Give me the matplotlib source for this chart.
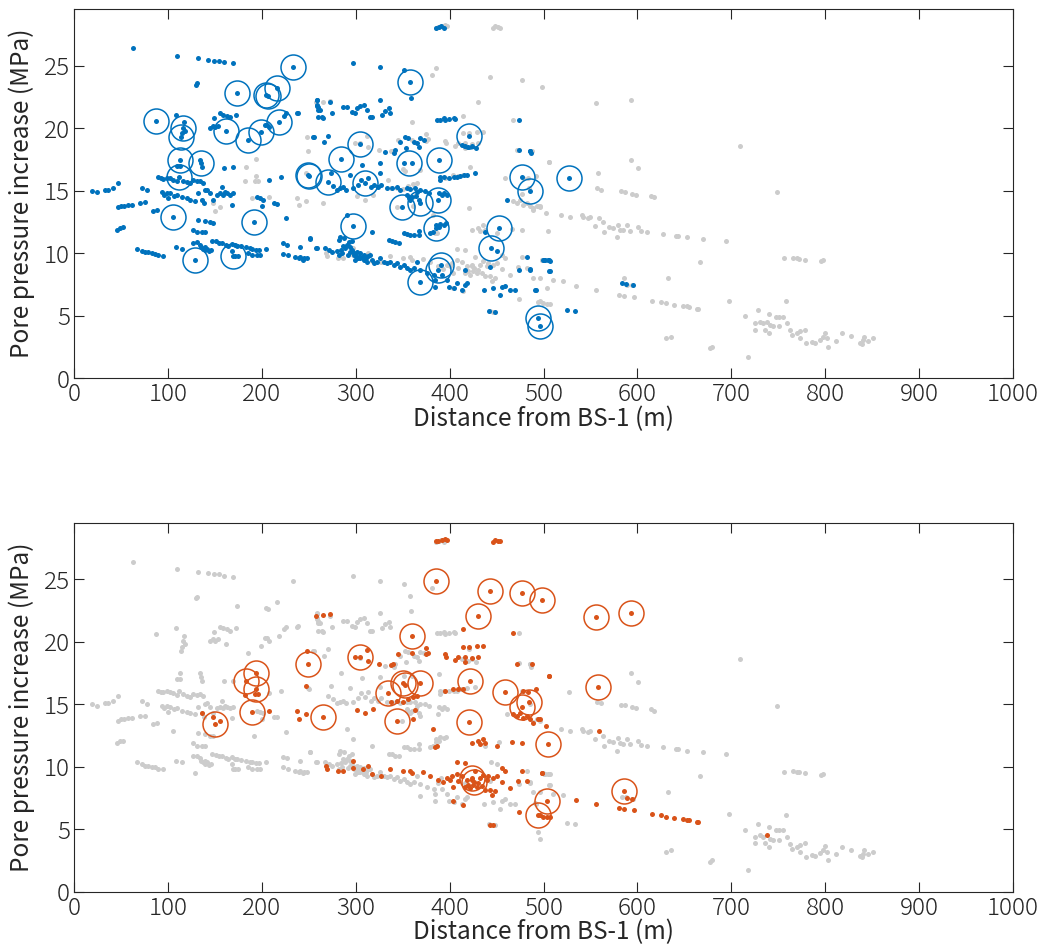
import matplotlib.pyplot as plt
import numpy as np

plt.rcParams['font.family'] = ['Noto Sans CJK JP', 'DejaVu Sans']
plt.rcParams['font.weight'] = 'light'

# events shown in blue in the upper panel (grey in the lower one)
blue_pts = [
    (63, 26.4), (110, 25.8), (132, 25.6), (143, 25.5), (149, 25.4), (154, 25.4), (160, 25.3), (169, 25.2),
    (130, 23.5), (131, 23.6), (233.6, 24.9), (174, 22.85), (204.5, 22.7), (206.5, 22.6), (216.5, 23.2),
    (259, 22.3), (259, 21.8), (260, 21.5), (260, 20.9),
    (87, 20.6), (109, 21.1), (116, 20.05), (114, 19.3), (117, 20.5), (118, 19.8), (115, 19.6),
    (149, 20.8), (155.5, 21.2), (159, 21.1), (162.6, 21.0), (166, 20.9), (173, 21.1),
    (145, 20.05), (148, 20.2), (150, 20.1), (153.7, 20.2),
    (162, 19.8), (185, 19.1), (199, 19.7), (203.4, 20.3), (206, 20.3), (208, 20.1), (218.7, 20.5),
    (224, 21.0), (226, 21.2), (237, 21.2), (239, 21.25), (255, 19.3),
    (112.9, 17.5), (135.2, 17.2), (134, 17.5), (136, 16.9), (112, 16.1), (109.4, 17.0), (113, 17.0),
    (160, 16.85), (169, 16.9), (208, 15.9), (220.4, 16.1), (250.6, 16.2), (249, 16.3),
    (89.8, 16.1), (92.3, 16.0), (95, 15.95), (98.7, 16.05), (102, 16.0), (105.8, 15.9), (109.4, 15.75),
    (116.4, 15.8), (120, 15.7), (123.4, 15.6), (127, 15.85), (130.6, 15.75), (134, 15.8), (137.7, 15.65),
    (18.8, 15.0), (24.2, 14.9), (33, 15.1), (36.5, 15.1), (42, 15.25), (47, 15.65), (72, 15.25), (78, 15.05),
    (93.4, 14.9), (98.7, 14.85), (102, 14.8),
    (96, 14.7), (100, 14.4), (106, 14.6), (110, 14.7), (115, 14.5), (120, 14.4), (123.7, 14.3), (129, 14.2),
    (132.5, 14.8), (136, 14.3), (138, 14.0), (140, 15.05), (142, 15.1), (145, 14.8), (148.5, 14.3),
    (152, 14.7), (155.6, 14.8), (157.4, 15.3), (159, 14.7), (161, 14.9), (162.7, 14.8), (166.3, 14.7),
    (169.8, 14.8), (168, 13.9),
    (194.8, 14.5), (198.3, 14.4), (201.8, 14.3), (200, 13.8), (212.5, 14.0), (216, 13.95),
    (46.5, 13.7), (50, 13.8), (53.6, 13.8), (57.8, 13.9), (61.4, 13.9), (70.3, 14.05), (75.6, 14.1),
    (84.5, 13.4), (88.7, 13.5), (105, 12.9),
    (45.5, 11.9), (49, 12.05), (52.5, 12.1),
    (131.7, 12.7), (139.6, 12.6), (145, 12.5), (148.5, 12.45), (127.2, 11.9), (130.7, 11.7), (136, 11.7),
    (139.6, 11.7), (192.2, 12.5), (226, 12.8), (251.3, 11.15),
    (127, 10.85), (131, 10.9), (134, 10.7), (135.5, 10.5), (137, 10.35), (139, 10.25), (140, 10.5),
    (142, 10.35), (144, 10.15), (146, 10.25), (147.5, 11.0), (151, 10.95), (154, 10.85), (158, 10.85),
    (161.5, 10.7), (164, 10.6), (168, 10.75), (171, 10.65), (174, 10.6), (178, 10.55), (183, 10.5),
    (187, 10.4), (190, 10.35), (194, 10.3), (197.5, 10.3), (204, 10.35), (168, 10.2), (171, 9.8),
    (66.8, 10.35), (72.1, 10.2), (75.7, 10.1), (79.2, 10.1), (82.8, 10.0), (86.3, 9.95), (89.9, 9.85),
    (94.5, 9.8), (108.7, 10.5), (114.8, 10.35), (129, 9.5), (169.2, 9.8), (174.5, 9.8),
    (185.8, 10.0), (189.4, 9.85), (194.8, 9.85), (198.3, 9.85),
    (223, 10.8), (226.7, 10.7), (223, 9.95), (228.4, 9.85), (235.6, 9.7), (241, 9.7), (244.5, 9.6),
    (248, 9.6), (241, 10.5), (258, 10.4),
    (386, 28.0), (388.4, 28.1), (391.3, 28.2), (393.7, 28.0),
    (296.7, 25.25), (325.7, 24.9), (351, 24.65), (358.2, 23.7), (359, 22.45),
    (259, 22.25), (260, 21.7), (262, 21.5), (264, 20.9), (272.6, 22.1), (274.4, 21.2), (265.6, 20.8),
    (258.7, 21.9), (287, 21.7), (290.7, 21.7), (296, 21.3), (299.5, 21.2), (301.3, 21.6), (304.8, 21.8),
    (308.4, 21.9), (312, 21.5), (315.5, 20.9), (317.3, 20.9), (326, 22.3), (328, 21.1), (331.5, 21.4),
    (335, 21.6), (336.9, 21.2),
    (386.6, 20.7), (390.2, 20.7), (393.7, 20.8), (395.5, 20.65), (399, 20.75), (404.4, 20.8), (406.2, 20.75),
    (474, 20.7), (420.7, 19.4), (413, 18.65), (416.5, 18.6), (420, 18.5), (423.7, 18.6), (428.3, 18.4),
    (255.9, 19.3), (271, 19.4), (265.8, 18.9), (304.8, 18.75),
    (347.5, 18.9), (352.9, 19.3), (355.4, 19.2), (361.7, 18.9), (365.3, 18.8), (368.8, 19.2), (372.4, 19.1),
    (367, 18.5), (354, 18.4),
    (284.3, 17.55), (306.7, 17.1), (326.2, 17.2), (331.5, 18.1), (340.4, 18.0), (341.4, 18.25),
    (351, 17.25), (360, 17.25), (388.4, 17.45),
    (389.5, 16.1), (393.7, 16.1), (399, 16.05), (404.4, 16.1), (408, 16.1), (411.5, 16.2), (415, 16.25),
    (418.7, 16.3), (427.5, 16.4), (390, 15.85),
    (477.3, 16.1), (486, 15.0), (473.6, 18.3), (486, 18.2), (486.8, 18.0),
    (271, 15.7), (310, 15.6), (294, 16.3), (273.7, 16.45), (326, 16.4),
    (276, 15.4), (280, 15.1), (283, 15.2), (287, 15.3), (290, 15.1), (297, 15.2), (302, 15.5), (306, 15.9),
    (313, 16.0), (316, 15.3), (319, 15.5), (324, 15.3), (327, 15.5), (333, 15.2),
    (338.7, 15.2), (344, 15.3), (347.5, 15.1), (354.7, 15.2), (358.2, 15.15), (363.5, 15.2), (365.3, 14.9),
    (368.9, 15.06), (374.2, 15.0), (377.7, 14.85),
    (388.4, 14.8), (392, 14.65), (393.7, 14.8), (397.3, 14.65), (387.7, 14.25),
    (354.7, 14.65), (356.4, 14.4), (358.2, 14.3), (360, 14.5), (364.6, 14.6), (367, 14.3),
    (349.3, 13.7), (368.9, 14.05), (296.7, 12.2), (290.7, 13.05), (283.6, 11.3), (281.8, 11.05),
    (287.1, 11.2), (317.4, 11.7), (251.6, 11.2),
    (385.6, 12.0), (385.9, 12.25), (388.4, 12.1), (390.2, 12.35), (393.7, 12.3), (396.3, 12.4),
    (382.4, 11.7), (379.5, 11.6),
    (351, 11.6), (354.7, 11.55), (358.2, 11.45), (361.7, 11.45), (367, 11.45), (367.8, 11.8),
    (335, 11.05), (338.7, 11.0), (342.2, 10.9), (345.7, 10.85),
    (239.9, 9.6), (243.5, 9.5), (258.7, 10.4), (267.6, 10.4), (271.1, 10.25), (274.7, 10.1), (280, 10.2),
    (281.8, 9.85), (285.4, 10.0), (289, 10.4), (290.7, 10.65), (294.3, 10.5), (294.3, 10.1), (297.8, 9.85),
    (299.6, 9.45), (301.4, 10.1), (303.1, 9.7), (304.9, 9.6), (308.4, 9.45), (312, 9.3), (315.5, 9.85),
    (317.3, 9.45), (319, 9.2), (322.6, 9.3), (326.2, 9.6), (329.7, 9.3), (333.3, 9.2), (336.8, 9.3),
    (340.4, 9.05), (344, 9.2), (347.5, 8.9), (351, 9.05), (354.7, 8.8), (358.2, 8.65), (361.7, 8.8),
    (365.3, 9.3), (368.1, 7.7), (388, 8.7), (391, 9.1), (368.9, 8.65), (376, 8.4), (383, 8.25),
    (292, 9.9), (296, 10.3), (298, 10.0), (300, 9.8), (302, 9.6), (305, 10.0), (307, 9.7), (309, 9.9),
    (311, 9.6), (313, 9.8), (284, 10.3), (287, 10.6), (293, 10.9), (296, 11.0),
    (384.9, 7.85), (384.9, 7.3), (392, 8.25), (397.3, 7.85), (399, 7.3), (404.4, 7.2), (408, 7.6),
    (413.3, 7.05), (416.8, 7.45), (418.6, 7.6), (416.8, 8.7), (436.4, 7.05), (446.3, 7.2), (443.5, 8.9),
    (453.4, 6.65), (456, 7.3), (459.5, 7.4), (464.1, 7.05), (470.1, 7.05), (473.7, 8.65), (482.6, 9.7),
    (486.1, 8.7), (491.5, 7.05), (500.3, 9.45), (505.6, 9.45), (505.6, 8.55),
    (441.7, 5.4), (448.1, 5.3), (494.3, 4.8), (496.1, 4.2),
    (453, 12.0), (444.6, 10.4), (438.2, 11.7), (450.6, 10.2), (461.2, 14.25),
    (485.6, 18.2), (527.5, 16.0), (499.7, 9.5), (502.1, 9.45), (504.5, 9.45), (506.7, 9.4), (485.6, 8.75),
    (506.4, 8.55), (491.1, 7.1), (583.2, 7.6), (588.2, 7.55), (594.9, 7.45), (524.5, 5.5), (533.3, 5.4),
]

# events shown in orange in the lower panel (grey in the upper one)
orange_pts = [
    (136.6, 14.3), (150.2, 13.4), (155.5, 13.7), (148, 14.0),
    (189.2, 14.4), (208, 14.5), (193.5, 17.55), (182.8, 16.9), (193.8, 16.2), (182.1, 15.75), (192.8, 15.8),
    (196.3, 15.8),
    (249.5, 18.2), (247.8, 19.3), (247.1, 16.45), (237.2, 14.45), (239.9, 13.85), (247.1, 14.2), (265.5, 14.0),
    (257.7, 22.1), (265.5, 22.15), (272.6, 22.2),
    (385.5, 28.05), (388, 28.1), (391.6, 28.2), (395.1, 28.25), (397.6, 28.2),
    (445.9, 28.0), (448.4, 28.2), (451.9, 28.1), (453.7, 28.05),
    (385.5, 24.85), (443, 24.1), (476.8, 23.9), (498, 23.35), (429.9, 22.1), (360.3, 20.5),
    (413.9, 21.0), (467.2, 20.7), (414.6, 19.6), (420.7, 19.6), (428.9, 19.7), (435.3, 19.7),
    (395.1, 19.0), (396.2, 18.8), (405.8, 18.55), (408.6, 18.8), (416.4, 18.8), (416.7, 18.4), (423.5, 18.75),
    (430.6, 18.8),
    (374.9, 19.55), (377.3, 19.15), (374.9, 19.0), (344.7, 19.05), (359.6, 19.1), (339.4, 18.2),
    (337.3, 18.15), (325.2, 18.25),
    (304.6, 18.8), (299.3, 18.8), (311.7, 19.35), (312.8, 18.5),
    (471.5, 18.25), (488.1, 18.2), (505.5, 17.3),
    (334.4, 15.9), (350, 16.75), (352.5, 16.55), (368.5, 16.7),
    (337.6, 15.2), (350.7, 15.15), (356, 15.4), (361.3, 15.55), (365, 15.65),
    (421.7, 16.9), (395.1, 16.05), (404, 16.25), (409.3, 16.2), (414.6, 16.25),
    (459, 16.0), (476.8, 14.75), (484.9, 15.2), (478.5, 16.05), (483.8, 16.0), (492, 16.2),
    (301, 14.55), (309.9, 14.3), (318.7, 14.65), (343.7, 15.25), (343.7, 13.7), (420.7, 13.6),
    (363.2, 14.55), (361.4, 13.8), (382.7, 13.05), (384.5, 11.6), (386.3, 11.65),
    (423.5, 11.9), (430.6, 12.05), (432.4, 11.8), (435.9, 12.25), (437.7, 11.9), (450.2, 11.65),
    (466.1, 11.95), (476.8, 11.9),
    (467.2, 14.2), (471.5, 14.05), (475, 14.3), (478.5, 13.9), (482.1, 14.05), (485.6, 13.8), (489.2, 13.5),
    (494.5, 13.8), (502.7, 13.25), (496.3, 13.8),
    (504.5, 11.8), (559.4, 12.85), (505.9, 17.3), (555.9, 22.0), (593.2, 22.3), (558.4, 16.4),
    (269.1, 9.8), (268.4, 10.05), (281.5, 9.65), (286.8, 9.65), (297.4, 10.45), (297.4, 9.9), (308.1, 9.8),
    (313.4, 10.05), (317.7, 9.4), (327, 9.3), (336.5, 9.8), (350.7, 9.65), (357.8, 9.7), (359.6, 9.5),
    (371.3, 9.55), (379.1, 9.3), (388, 8.95), (393.3, 8.75), (396.9, 9.1), (400.4, 8.95), (402.2, 9.25),
    (404, 8.4), (407.6, 10.35), (407.6, 9.45), (409.3, 8.85), (412.9, 9.3), (416.4, 10.3), (416.4, 8.4),
    (418.2, 8.95), (419.9, 8.55), (421.7, 8.3), (423.5, 8.95), (424, 9.1), (426, 8.8), (425.3, 8.55),
    (427, 9.7), (428.9, 8.4), (430.6, 8.7), (432.4, 9.1), (434.2, 8.45), (435.9, 9.35), (437.7, 8.15),
    (439.5, 8.95), (441.2, 9.25), (443, 8.15), (444.8, 7.75), (446.5, 9.1), (448.4, 8.05), (450.2, 9.25),
    (455.5, 9.9), (455.5, 8.75), (459, 9.65), (464.3, 8.3), (473.2, 8.9), (476.8, 9.7), (482.1, 8.85),
    (498.1, 9.5), (498, 9.5),
    (403.3, 7.25), (414.6, 6.95), (443, 5.35), (446.5, 5.3), (474.2, 6.35), (503.4, 7.25), (494.5, 6.1),
    (496.3, 6.15), (499.8, 6.0), (503.4, 5.95), (507, 5.95),
    (534.6, 7.35), (555.9, 7.05), (585.7, 8.05), (589.2, 7.5), (593.9, 7.45), (580.4, 6.7), (585.7, 6.6),
    (596.4, 6.5), (615.2, 6.2), (624.8, 6.1), (630.1, 6.0), (639.3, 5.9), (648.2, 5.8), (652.5, 5.75),
    (655.3, 5.7), (663.1, 5.55), (664.9, 5.55), (737.6, 4.5),
]

# events that are grey in both panels
other_pts = [
    (381, 24.3), (709.3, 18.6), (592.7, 17.5), (600.6, 16.8), (749, 14.9), (557.2, 15.2), (561.5, 15.1),
    (582, 14.98), (586.7, 14.93), (594.5, 14.77), (598, 14.7), (614.6, 14.6), (617.6, 14.5),
    (489.2, 13.6), (492.8, 13.8), (496.3, 13.7), (518.3, 13.05), (528.2, 12.9), (540.7, 13.05), (542.4, 12.9),
    (547.7, 12.8), (549.5, 12.9), (554.8, 12.2), (563.7, 12.5), (564.4, 11.7), (570.1, 12.1), (574.4, 12.0),
    (579, 12.3), (578.6, 11.3), (581.5, 11.9), (585, 11.85), (588.6, 12.25), (592.1, 11.8), (600.9, 12.1),
    (603.5, 11.75), (609.9, 11.7), (627.6, 11.55), (641.1, 11.4), (643.6, 11.4), (652.5, 11.3),
    (670.2, 11.15), (694, 11.0),
    (666.7, 9.3), (632.1, 8.0), (697.9, 6.2), (728.1, 5.45),
    (489.2, 8.0), (496.3, 8.0), (509.8, 7.85), (520.4, 7.75),
    (714.6, 4.95), (725.2, 4.4), (725.2, 3.9), (730.6, 4.5), (734.1, 4.4), (735.9, 3.9), (740.5, 5.15),
    (741.2, 4.25), (740.5, 3.6), (744.8, 4.15), (747.6, 4.9), (751.1, 4.9), (754.7, 4.9), (750.8, 4.15),
    (757.9, 6.15), (759, 4.4), (762.5, 3.85), (764.3, 3.45), (769.6, 3.6), (773.2, 3.75), (778.8, 3.9),
    (773.2, 3.2), (779.6, 2.8), (785.6, 2.9), (789.1, 2.85), (794.5, 3.1), (797.3, 3.3), (802.2, 3.2),
    (803.3, 2.5), (799.8, 3.65), (811.5, 3.0), (817.6, 3.6), (827.5, 3.35), (837.1, 2.85), (840.6, 3.05),
    (841.3, 3.3), (845.9, 3.0), (850.6, 3.2), (838.8, 2.75), (677.3, 2.4), (679.1, 2.5), (718.1, 1.7),
    (630.5, 3.2), (635.8, 3.3), (756.5, 9.6), (766, 9.65), (769.6, 9.6), (772.4, 9.55), (778.8, 9.5),
    (795.2, 9.35), (798, 9.45),
]

# highlighted events (rings)
blue_rings = [
    (87, 20.6), (116.4, 20.05), (114, 19.3), (112.9, 17.5), (112.1, 16.1), (135.2, 17.2), (105.1, 12.9),
    (129, 9.5), (169.2, 9.8), (174, 22.85), (204.5, 22.7), (206.5, 22.6), (216.5, 23.2), (233.6, 24.9),
    (161.9, 19.8), (185, 19.1), (199, 19.7), (218.7, 20.5), (192.2, 12.5), (250.6, 16.2), (249, 16.3),
    (271, 15.7), (284.3, 17.55), (304.8, 18.75), (296.7, 12.2), (310, 15.6), (349.3, 13.7), (357, 17.25),
    (358.2, 23.7), (368.9, 14.05), (368.1, 7.7), (387.7, 14.25), (388.4, 17.45), (385.6, 12.0), (388, 8.7),
    (391, 9.1), (420.7, 19.4), (444.6, 10.4), (453, 12.0), (477.3, 16.1), (486, 15.0), (494.3, 4.8),
    (496.1, 4.2), (527.5, 16.0),
]
orange_rings = [
    (150.2, 13.4), (182.8, 16.9), (193.5, 17.55), (193.8, 16.2), (189.2, 14.4), (249.5, 18.2), (265.5, 14.0),
    (304.6, 18.8), (334.4, 15.9), (343.7, 13.7), (350, 16.75), (352.5, 16.55), (368.5, 16.7), (360.3, 20.5),
    (385.5, 24.85), (421.7, 16.9), (420.7, 13.6), (429.9, 22.1), (443, 24.1), (476.8, 23.9), (498, 23.35),
    (459, 16.0), (476.8, 14.75), (484.9, 15.2), (504.5, 11.8), (424, 9.1), (426, 8.8), (503.4, 7.25),
    (494.5, 6.1), (555.9, 22.0), (593.2, 22.3), (558.4, 16.4), (585.7, 8.05),
]

BLUE = '#0072BD'
ORANGE = '#D95319'
GREY = '#cccccc'
FS = 17.5


def xy(pts):
    a = np.array(pts)
    return a[:, 0], a[:, 1]


def panel(ax, grey_sets, col_pts, rings, col):
    for g in grey_sets:
        gx, gy = xy(g)
        ax.plot(gx, gy, 'o', color=GREY, markersize=3.6, markeredgewidth=0)
    cx, cy = xy(col_pts)
    ax.plot(cx, cy, 'o', color=col, markersize=3.6, markeredgewidth=0)
    rx, ry = xy(rings)
    ax.plot(rx, ry, 'o', markerfacecolor='none', markeredgecolor=col, markersize=18, markeredgewidth=1.1)

    ax.set_xlim(0, 1000)
    ax.set_ylim(0, 29.55)
    ax.set_xticks(np.arange(0, 1001, 100))
    ax.set_yticks(np.arange(0, 26, 5))
    ax.tick_params(direction='in', length=7, width=0.8, top=True, right=True, labelsize=FS,
                   colors='#262626', pad=3)
    for s in ax.spines.values():
        s.set_linewidth(0.8)
        s.set_color('#262626')
    ax.set_xlabel('Distance from BS-1 (m)', fontsize=FS, color='#262626', labelpad=-1)
    ax.set_ylabel('Pore pressure increase (MPa)', fontsize=FS, color='#262626', labelpad=6)


fig = plt.figure(figsize=(10.45, 9.51), dpi=100)
ax1 = fig.add_axes([0.0708, 0.6022, 0.8986, 0.3883])
ax2 = fig.add_axes([0.0708, 0.0624, 0.8986, 0.3880])

panel(ax1, [orange_pts, other_pts], blue_pts, blue_rings, BLUE)
panel(ax2, [blue_pts, other_pts], orange_pts, orange_rings, ORANGE)

fig.savefig('out.png', dpi=100)
